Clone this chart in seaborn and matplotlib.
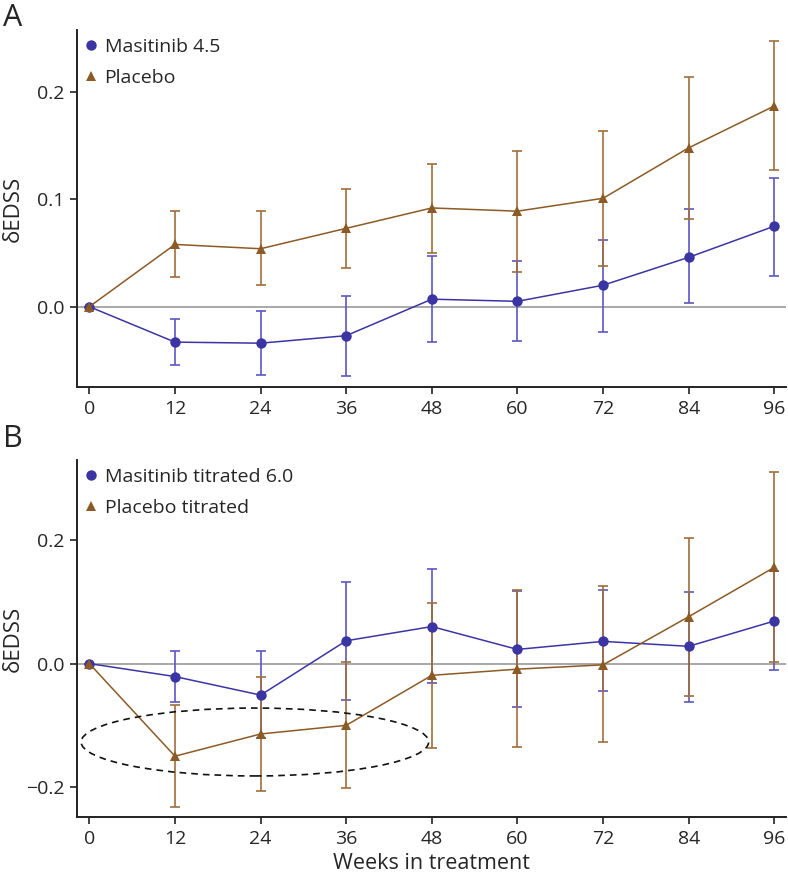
import numpy as np
import pandas as pd
import matplotlib
matplotlib.use("Agg")
import matplotlib.pyplot as plt
import seaborn as sns
from matplotlib.patches import Ellipse
from matplotlib.lines import Line2D

sns.set_style("ticks")
plt.rcParams['font.family'] = ['Open Sans', 'DejaVu Sans']

weeks = [0, 12, 24, 36, 48, 60, 72, 84, 96]

# Panel A
masi_a = [0.0, -0.033, -0.034, -0.027, 0.007, 0.005, 0.020, 0.046, 0.075]
masi_a_lo = [0.0, -0.054, -0.064, -0.065, -0.033, -0.032, -0.024, 0.003, 0.029]
masi_a_hi = [0.0, -0.011, -0.004, 0.010, 0.047, 0.043, 0.062, 0.091, 0.120]
plac_a = [0.0, 0.058, 0.054, 0.073, 0.092, 0.089, 0.101, 0.148, 0.187]
plac_a_lo = [0.0, 0.028, 0.020, 0.036, 0.050, 0.032, 0.038, 0.082, 0.127]
plac_a_hi = [0.0, 0.089, 0.089, 0.110, 0.133, 0.145, 0.164, 0.214, 0.248]

# Panel B
masi_b = [0.0, -0.021, -0.051, 0.037, 0.060, 0.023, 0.036, 0.028, 0.069]
masi_b_lo = [0.0, -0.063, -0.121, -0.059, -0.032, -0.070, -0.045, -0.062, -0.011]
masi_b_hi = [0.0, 0.021, 0.021, 0.133, 0.154, 0.118, 0.119, 0.116, 0.150]
plac_b = [0.0, -0.150, -0.114, -0.100, -0.019, -0.009, -0.002, 0.076, 0.156]
plac_b_lo = [0.0, -0.232, -0.206, -0.202, -0.137, -0.135, -0.127, -0.053, 0.003]
plac_b_hi = [0.0, -0.067, -0.021, 0.003, 0.098, 0.120, 0.126, 0.203, 0.311]

blue = "#3b35a3"
brown = "#8c5a25"
blue_err = "#5c57c4"
brown_err = "#a06e3c"

fig = plt.figure(figsize=(7.88, 8.76), dpi=100)
axA = fig.add_axes([0.098, 0.558, 0.9, 0.408])
axB = fig.add_axes([0.098, 0.067, 0.9, 0.408])


def draw(ax, series, ylim, yticks, ticklabels):
    ax.axhline(0, color="#999999", lw=1.2, zorder=1)
    rows = []
    for name, y, lo, hi, col, ecol, mk, ms in series:
        y = np.array(y)
        ax.errorbar(weeks, y, yerr=[y - np.array(lo), np.array(hi) - y],
                    fmt="none", ecolor=ecol, elinewidth=1.2, capsize=3.8,
                    capthick=1.2, zorder=2)
        rows.append(pd.DataFrame({"week": weeks, "val": y, "grp": name}))
    df = pd.concat(rows)
    names = [s[0] for s in series]
    sns.lineplot(data=df, x="week", y="val", hue="grp", style="grp",
                 hue_order=names, style_order=names,
                 palette=[s[4] for s in series],
                 markers=[s[6] for s in series], dashes=False,
                 markersize=7.5, markeredgewidth=0, lw=1.1,
                 ax=ax, legend=False, zorder=3)
    handles = [Line2D([], [], ls="none", marker=s[6], color=s[4],
                      markersize=s[7], markeredgewidth=0) for s in series]
    ax.legend(handles, names, loc="upper left", frameon=False, fontsize=14,
              handletextpad=0.1, borderaxespad=0.0, labelspacing=0.7,
              handlelength=1.2, bbox_to_anchor=(-0.008, 1.0))
    ax.set_xlim(-1.7, 97.7)
    ax.set_ylim(*ylim)
    ax.set_xticks(weeks)
    ax.set_yticks(yticks)
    ax.set_yticklabels(ticklabels)
    ax.set_ylabel("δEDSS", fontsize=16)
    ax.yaxis.set_label_coords(-0.076, 0.5)
    ax.set_xlabel("")
    sns.despine(ax=ax)
    for sp in ["left", "bottom"]:
        ax.spines[sp].set_linewidth(1.4)
        ax.spines[sp].set_color("#222222")
    ax.tick_params(labelsize=14, length=5, width=1.2, color="#222222", pad=4)


draw(axA,
     [("Masitinib 4.5", masi_a, masi_a_lo, masi_a_hi, blue, blue_err, "o", 7.5),
      ("Placebo", plac_a, plac_a_lo, plac_a_hi, brown, brown_err, "^", 7)],
     (-0.075, 0.258), [0.0, 0.1, 0.2], ["0.0", "0.1", "0.2"])

draw(axB,
     [("Masitinib titrated 6.0", masi_b, masi_b_lo, masi_b_hi, blue, blue_err, "o", 7.5),
      ("Placebo titrated", plac_b, plac_b_lo, plac_b_hi, brown, brown_err, "^", 7)],
     (-0.249, 0.330), [-0.2, 0.0, 0.2], ["\u22120.2", "0.0", "0.2"])

# dashed ellipse highlighting early placebo titrated dip
ell_center = (23.2, -0.127)
ell_w, ell_h = 48.7, 0.11
axB.add_patch(Ellipse(ell_center, ell_w, ell_h, fill=False, ls=(0, (4, 3)),
                      lw=1.2, ec="#111111", zorder=4))

axB.set_xlabel("Weeks in treatment", fontsize=15.5, labelpad=4)

fig.text(0.004, 0.997, "A", fontsize=22, va="top", ha="left")
fig.text(0.004, 0.516, "B", fontsize=22, va="top", ha="left")

fig.savefig("out.png", dpi=100)
